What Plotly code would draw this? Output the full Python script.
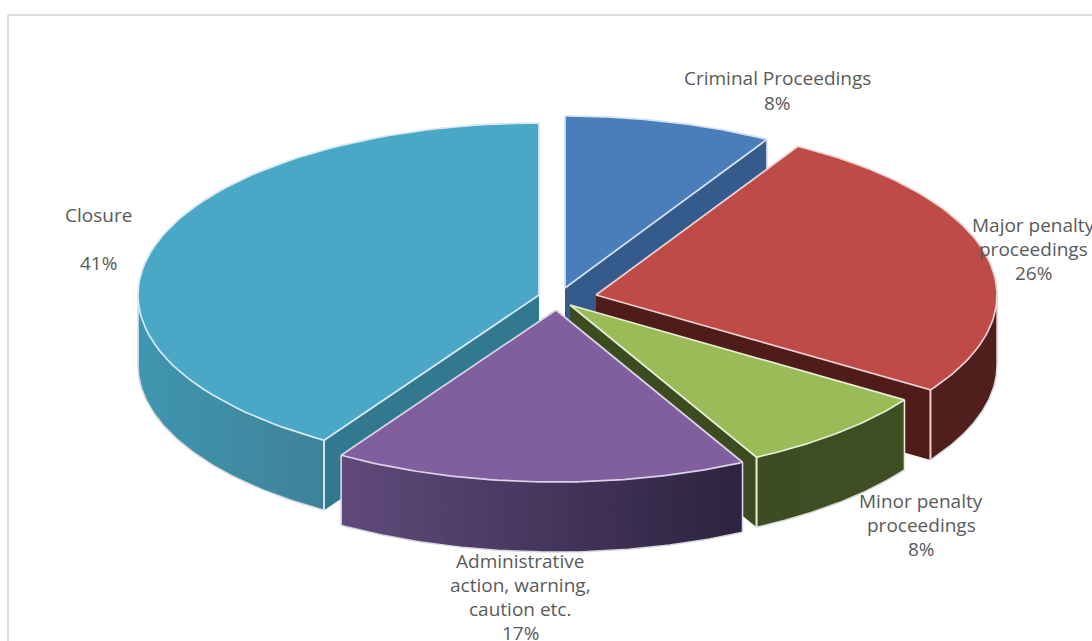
import math
import plotly.graph_objects as go

# --- data ---
categories = ["Criminal Proceedings", "Major penalty proceedings", "Minor penalty proceedings",
              "Administrative action, warning, caution etc.", "Closure"]
shares = [8.4, 25.9, 8.0, 16.7, 41.0]
label_lines = [
    ["Criminal Proceedings", "{p}%"],
    ["Major penalty", "proceedings", "{p}%"],
    ["Minor penalty", "proceedings", "{p}%"],
    ["Administrative", "action, warning,", "caution etc.", "{p}%"],
    ["Closure", "", "{p}%"],
]

# --- geometry & style (pixel-like projection of the 3D pie) ---
W, H = 1092, 641
RX, RY, DEPTH = 401, 172, 70
apex = [(565, 288), (596, 295), (570, 305), (556, 310), (539, 295)]
top_col = ["#4a7ebb", "#be4b48", "#9bbb59", "#7f5f9d", "#4aa8c6"]
face_col = ["#345b8c", "#4f1c19", "#3d4c20", "#5d4777", "#32788e"]
wall_grad = [("#345b8c", "#345b8c"), ("#4f1f1c", "#4f1f1c"), ("#3d4c22", "#3f4f22"),
             ("#604a7b", "#2c2340"), ("#4096b0", "#3e8299")]
edge_col = ["#d5e2f2", "#ecd2d0", "#e6efd5", "#ddd2e8", "#d5eaf1"]
sil_col = "#d4d8dc"
label_pos = [(777, 78, 24.5), (1033, 225, 24), (921, 501, 24), (520, 561, 24), (98, 215, 24)]

fig = go.Figure()


def arc(i, a0, a1, n=80, dz=0):
    cx, cy = apex[i]
    pts = [a0 + (a1 - a0) * k / n for k in range(n + 1)]
    return ([cx + RX * math.sin(t) for t in pts], [cy - RY * math.cos(t) + dz for t in pts])


def poly(xs, ys, color=None, line=None, lw=1.4, grad=None):
    kw = {}
    if grad:
        kw["fillgradient"] = dict(type="horizontal", colorscale=[[0, grad[0]], [1, grad[1]]])
    else:
        kw["fillcolor"] = color
    fig.add_trace(go.Scatter(x=xs, y=ys, mode="lines", fill="toself",
                             line=dict(color=line or "rgba(0,0,0,0)", width=lw if line else 0),
                             hoverinfo="skip", showlegend=False, **kw))


def stroke(xs, ys, color, lw=1.5):
    fig.add_trace(go.Scatter(x=xs, y=ys, mode="lines", line=dict(color=color, width=lw),
                             hoverinfo="skip", showlegend=False))


total = sum(shares)
bounds = []
acc = 0.0
for v in shares:
    bounds.append((acc / total * 2 * math.pi, (acc + v) / total * 2 * math.pi))
    acc += v

# back to front
for i in [0, 4, 1, 2, 3]:
    a0, a1 = bounds[i]
    cx, cy = apex[i]
    # cut face: the radial side that looks towards the viewer
    face_a = a0 if i == 4 else a1
    if i != 3:
        ex = cx + RX * math.sin(face_a)
        ey = cy - RY * math.cos(face_a)
        poly([cx, ex, ex, cx, cx], [cy, ey, ey + DEPTH, cy + DEPTH, cy], color=face_col[i])
    # outer wall: only the front half of the rim shows
    w0, w1 = max(a0, math.pi / 2), min(a1, 1.5 * math.pi)
    if w1 > w0:
        xt, yt = arc(i, w0, w1)
        xb, yb = arc(i, w0, w1, dz=DEPTH)
        poly(xt + xb[::-1] + [xt[0]], yt + yb[::-1] + [yt[0]], grad=wall_grad[i])
        stroke(xb, yb, sil_col, 1.5)
        stroke([xt[0], xb[0]], [yt[0], yb[0]], edge_col[i] if i != 1 else "#e4c9c8", 1.6)
        stroke([xt[-1], xb[-1]], [yt[-1], yb[-1]], edge_col[i], 1.6)
    # face corner edge
    if i != 3:
        ex = cx + RX * math.sin(face_a)
        ey = cy - RY * math.cos(face_a)
        stroke([ex, ex], [ey, ey + DEPTH], edge_col[i], 1.6)
    # top
    xa, ya = arc(i, a0, a1)
    poly([cx] + xa + [cx], [cy] + ya + [cy], color=top_col[i], line=edge_col[i], lw=1.7)

# frame of the picture
fig.add_shape(type="line", x0=8, x1=W, y0=15, y1=15, line=dict(color="#d9d9d9", width=2))
fig.add_shape(type="line", x0=8, x1=8, y0=15, y1=H, line=dict(color="#d9d9d9", width=2))

# labels: percentages come from the values
for lines, v, (lx, ly, step) in zip(label_lines, shares, label_pos):
    for k, t in enumerate(lines):
        if not t:
            continue
        fig.add_annotation(x=lx, y=ly + k * step, text=t.format(p=round(v)), showarrow=False,
                           xanchor="center", yanchor="middle",
                           font=dict(family="Open Sans", size=19, color="#5a5a5a"))

fig.update_layout(
    width=W, height=H, margin=dict(l=0, r=0, t=0, b=0), showlegend=False,
    paper_bgcolor="white", plot_bgcolor="white",
    xaxis=dict(range=[0, W], visible=False, fixedrange=True),
    yaxis=dict(range=[H, 0], visible=False, fixedrange=True),
)
fig.write_html("out.html", config=dict(displayModeBar=False),
               post_script="document.body.style.margin='0';document.body.style.overflow='hidden';")
